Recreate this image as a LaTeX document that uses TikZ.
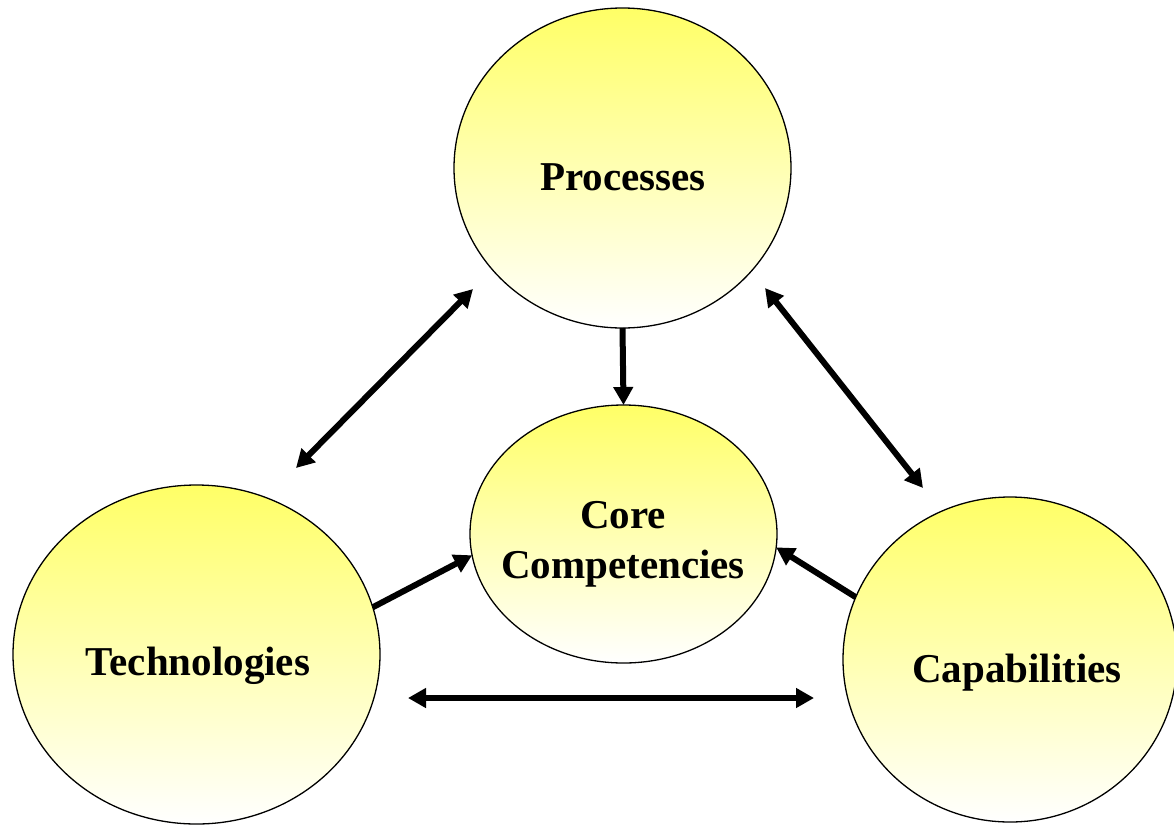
\documentclass[tikz,border=0pt]{standalone}
\usepackage{fontspec}
\setmainfont{Liberation Serif}
\usetikzlibrary{shapes.geometric,arrows.meta}
\begin{document}
\begin{tikzpicture}[x=1pt,y=-1pt,
  blob/.style={ellipse,draw=black,line width=1.3pt,inner sep=0pt,outer sep=0pt,
    top color=yellow!60,bottom color=white},
  lbl/.style={font=\fontsize{41}{49}\selectfont\bfseries,anchor=base,inner sep=0pt},
  conn/.style={line width=6pt,-{Triangle[length=18pt,width=19pt]}},
  dconn/.style={line width=6pt,{Triangle[length=18pt,width=19pt]}-{Triangle[length=18pt,width=19pt]}}]
\useasboundingbox (0,0) rectangle (1174,825);
\fill[white] (0,0) rectangle (1174,825);
\node[blob,minimum width=337pt,minimum height=320pt] (proc) at (622.5,168) {};
\node[blob,minimum width=307pt,minimum height=258pt] (core) at (623.5,534) {};
\node[blob,minimum width=367pt,minimum height=339pt] (tech) at (196.5,654.5) {};
\node[blob,minimum width=334pt,minimum height=325pt] (capa) at (1010,659.5) {};
\node[lbl] (tproc) at (623,190) {Processes};
\node[lbl] (tcore1) at (623,528) {Core};
\node[lbl] (tcore2) at (623,578) {Competencies};
\node[lbl] (ttech) at (198,675) {Technologies};
\node[lbl] (tcapa) at (1017,682) {Capabilities};
\coordinate (a1) at (296,468);
\coordinate (a2) at (473,289);
\coordinate (b1) at (765,288);
\coordinate (b2) at (923,488);
\coordinate (c1) at (408,698);
\coordinate (c2) at (814,698);
\draw[conn] (proc.south) -- (core.north);
\draw[conn] (tech.15.5) -- (core.188.5);
\draw[conn] (capa.158) -- (core.-5.5);
\draw[dconn] (a1) -- (a2);
\draw[dconn] (b1) -- (b2);
\draw[dconn] (c1) -- (c2);
\end{tikzpicture}
\end{document}
